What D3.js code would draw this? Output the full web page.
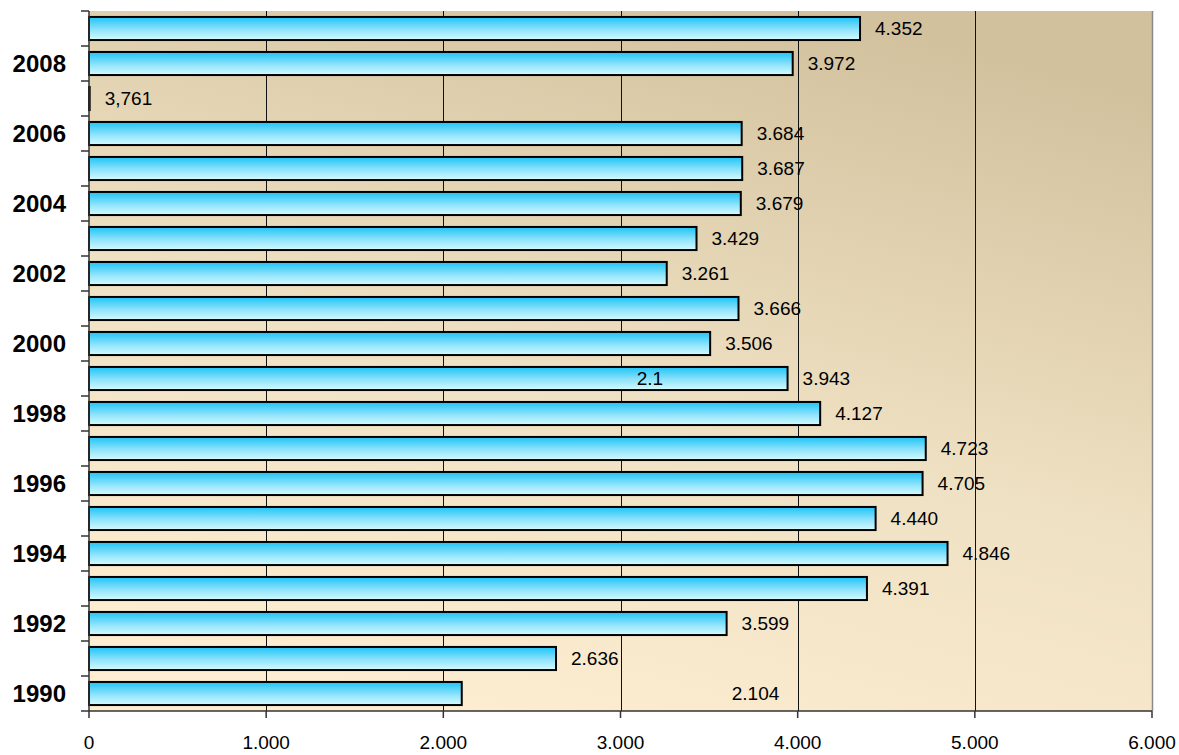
<!DOCTYPE html>
<html>
<head>
<meta charset="utf-8">
<script src="https://cdn.jsdelivr.net/npm/d3@7"></script>
<style>
  html, body { margin: 0; padding: 0; background: #ffffff; }
  svg { display: block; font-family: Arial, "Liberation Sans", sans-serif; }
</style>
</head>
<body>
<svg id="chart" width="1179" height="755"></svg>
<script>
// Yearly values, newest first (top to bottom)
const years = [2009, 2008, 2007, 2006, 2005, 2004, 2003, 2002, 2001, 2000,
               1999, 1998, 1997, 1996, 1995, 1994, 1993, 1992, 1991, 1990];
const values = [4352, 3972, 3.761, 3684, 3687, 3679, 3429, 3261, 3666, 3506,
                3943, 4127, 4723, 4705, 4440, 4846, 4391, 3599, 2636, 2104];
const yearLabels = [2008, 2006, 2004, 2002, 2000, 1998, 1996, 1994, 1992, 1990];
const xTicks = [0, 1000, 2000, 3000, 4000, 5000, 6000];
// Labels that sit at a fixed axis value instead of at the bar end
const labelAnchors = [{ year: 1990, at: 3628 }];
const notes = [{ year: 1999, text: "2.1", at: 3166 }];

const svg = d3.select("#chart");
const margin = { left: 89, right: 27, top: 11, bottom: 44 };
const W = 1179, H = 755;
const x = d3.scaleLinear().domain([0, 6000]).range([margin.left, W - margin.right]);
const y = d3.scaleBand().domain(years).range([margin.top, H - margin.bottom]).paddingInner(0.34).paddingOuter(0.17);

const locale = d3.formatLocale({ decimal: ",", thousands: ".", grouping: [3], currency: ["", ""] });
const fmtVal = locale.format(",.4r");
const fmtTick = locale.format(",d");

const defs = svg.append("defs");
const bg = defs.append("linearGradient").attr("id", "bgGrad")
  .attr("x1", "0.3").attr("y1", "1").attr("x2", "0.7").attr("y2", "0");
bg.append("stop").attr("offset", "0%").attr("stop-color", "#fdedd1");
bg.append("stop").attr("offset", "45%").attr("stop-color", "#efe1c3");
bg.append("stop").attr("offset", "100%").attr("stop-color", "#d2c19d");

const barGrad = defs.append("linearGradient").attr("id", "barGrad")
  .attr("x1", 0).attr("y1", 0).attr("x2", 0).attr("y2", 1);
barGrad.append("stop").attr("offset", "0%").attr("stop-color", "#1ec3f6");
barGrad.append("stop").attr("offset", "55%").attr("stop-color", "#8fe3fb");
barGrad.append("stop").attr("offset", "100%").attr("stop-color", "#d6fbff");

const x0 = x(0), x1 = x(6000), y0 = margin.top, y1 = H - margin.bottom;

// plot area background
svg.append("rect").attr("x", x0).attr("y", y0)
  .attr("width", x1 - x0).attr("height", y1 - y0)
  .attr("fill", "url(#bgGrad)");

// vertical gridlines
svg.append("g").selectAll("line").data(xTicks.slice(1, -1)).join("line")
  .attr("x1", d => Math.round(x(d)) + 0.5).attr("x2", d => Math.round(x(d)) + 0.5)
  .attr("y1", y0).attr("y2", y1)
  .attr("stroke", "#111").attr("stroke-width", 1);

// right edge
svg.append("line").attr("x1", x1 + 0.5).attr("x2", x1 + 0.5)
  .attr("y1", y0).attr("y2", y1).attr("stroke", "#8a8a8a").attr("stroke-width", 1.5);

// bars
const rows = years.map((yr, i) => ({ year: yr, value: values[i] }));
svg.append("g").selectAll("rect").data(rows).join("rect")
  .attr("x", x(0))
  .attr("y", d => y(d.year))
  .attr("width", d => Math.max(0, x(d.value) - x(0)))
  .attr("height", y.bandwidth())
  .attr("fill", "url(#barGrad)")
  .attr("stroke", "#000").attr("stroke-width", 2);

// value labels
svg.append("g").selectAll("text").data(rows).join("text")
  .attr("x", d => {
    const a = labelAnchors.find(l => l.year === d.year);
    return a ? x(a.at) : x(d.value) + 15;
  })
  .attr("y", d => y(d.year) + y.bandwidth() / 2)
  .attr("dy", "0.36em")
  .attr("font-size", 19).attr("fill", "#000")
  .text(d => fmtVal(d.value));

svg.append("g").selectAll("text").data(notes).join("text")
  .attr("x", d => x(d.at)).attr("y", d => y(d.year) + y.bandwidth() / 2)
  .attr("dy", "0.36em").attr("text-anchor", "middle")
  .attr("font-size", 19).attr("fill", "#000")
  .text(d => d.text);

// y axis: line, ticks at band boundaries, labels for even years
const step = y.step();
const bounds = d3.range(years.length + 1).map(i => y0 + i * step);
svg.append("g").selectAll("line").data(bounds).join("line")
  .attr("x1", x0 - 8).attr("x2", x0)
  .attr("y1", d => d).attr("y2", d => d)
  .attr("stroke", "#333").attr("stroke-width", 1.5);
svg.append("line").attr("x1", x0).attr("x2", x0).attr("y1", y0).attr("y2", y1)
  .attr("stroke", "#333").attr("stroke-width", 1.5);
svg.append("g").selectAll("text").data(yearLabels).join("text")
  .attr("x", x0 - 23)
  .attr("y", d => y(d) + y.bandwidth() / 2)
  .attr("dy", "0.36em").attr("text-anchor", "end")
  .attr("font-size", 24).attr("font-weight", "bold").attr("fill", "#000")
  .text(d => d);

// x axis
svg.append("line").attr("x1", x0).attr("x2", x1).attr("y1", y1).attr("y2", y1)
  .attr("stroke", "#333").attr("stroke-width", 1.5);
svg.append("g").selectAll("line").data(xTicks).join("line")
  .attr("x1", d => x(d)).attr("x2", d => x(d))
  .attr("y1", y1).attr("y2", y1 + 7)
  .attr("stroke", "#333").attr("stroke-width", 1.5);
svg.append("g").selectAll("text").data(xTicks).join("text")
  .attr("x", d => x(d)).attr("y", y1 + 38)
  .attr("text-anchor", "middle")
  .attr("font-size", 19).attr("fill", "#000")
  .text(d => fmtTick(d));
</script>
</body>
</html>
